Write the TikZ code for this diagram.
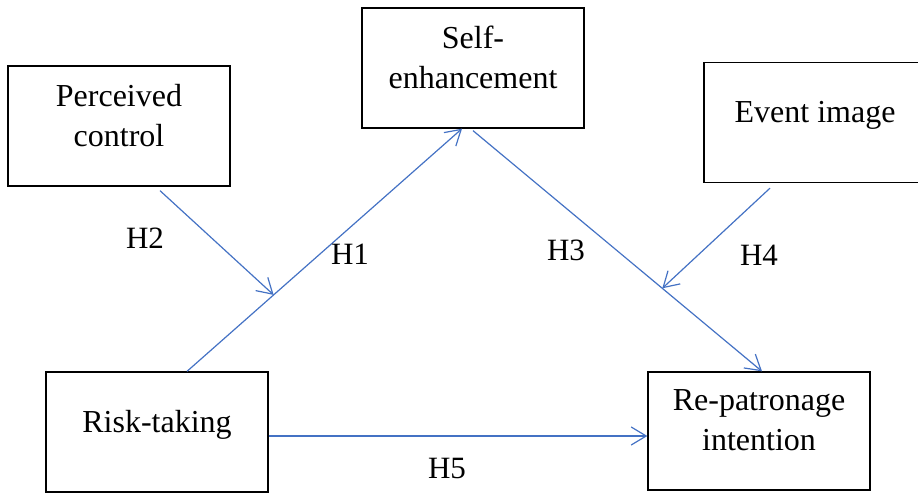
\documentclass[tikz,border=0pt]{standalone}
\usepackage{fontspec}
\setmainfont{Liberation Serif}
\definecolor{linkBlue}{RGB}{68,114,196}
\usetikzlibrary{arrows.meta,calc}

\begin{document}
\begin{tikzpicture}[x=1pt,y=-1pt,
    box/.style={draw,line width=1.3pt,minimum width=222pt,minimum height=120pt,
      align=center,font=\fontsize{32}{40}\selectfont,
      execute at end node={\rule[-22pt]{0pt}{22pt}}},
    link/.style={linkBlue,line width=1.2pt,-{Straight Barb[length=15pt,width=18pt]}},
    hyp/.style={anchor=base,font=\fontsize{31}{36}\selectfont}]
  \useasboundingbox (0,0) rectangle (918,496);
  % Constructs
  \node[box] (perceived) at (119,126) {Perceived\\control};
  \node[box] (selfenh) at (473,68) {Self-\\enhancement};
  \node[box] (event) at (815,122.5) {Event image};
  \node[box] (risk) at (157,432) {Risk-taking};
  \node[box,minimum height=118pt] (repat) at (759,431) {Re-patronage\\intention};
  % Main paths
  \draw[link] ([xshift=30pt]risk.north) -- ([xshift=-11pt]selfenh.south)
    coordinate[pos=0.315] (h1mid);
  \draw[link] ([yshift=-2pt]selfenh.south) -- ([xshift=3pt]repat.north)
    coordinate[pos=0.655] (h3mid);
  \draw[link] ([yshift=-4pt]risk.east) -- ([yshift=-4pt]risk.east -| repat.west);
  % Moderators
  \draw[link] ([xshift=41pt,yshift=-4pt]perceived.south) -- (h1mid);
  \draw[link] ([xshift=-45pt,yshift=-5pt]event.south) -- (h3mid);
  % Hypotheses
  \node[hyp] (h1) at (350,264) {H1};
  \node[hyp] (h2) at (145,248) {H2};
  \node[hyp] (h3) at (566,260) {H3};
  \node[hyp] (h4) at (759,265) {H4};
  \node[hyp] (h5) at (447,478) {H5};
\end{tikzpicture}
\end{document}
